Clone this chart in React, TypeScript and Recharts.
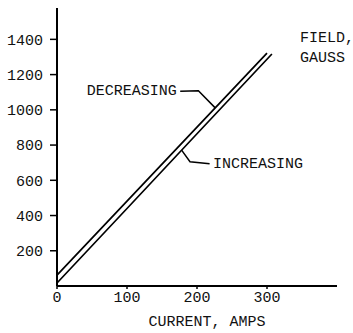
import { LineChart, Line, XAxis, YAxis, ReferenceDot } from "recharts";

// field vs. current
const decreasingCurrent = [0, 100, 200, 300];
const decreasingField = [62, 482, 902, 1322];
const increasingCurrent = [0, 100, 200, 307];
const increasingField = [17, 440, 864, 1317];

// leader lines from the labels to the curves
const decLeaderCurrent = [176, 202, 226];
const decLeaderField = [1105, 1108, 1011];
const incLeaderCurrent = [178, 190, 218];
const incLeaderField = [771, 705, 694];

const xTicks = [0, 100, 200, 300];
const yTicks = [200, 400, 600, 800, 1000, 1200, 1400];

const zip = (xs: number[], ys: number[]) => xs.map((x, i) => ({ x, y: ys[i] }));

const font = "'Liberation Mono', monospace";

type TextProps = { cx?: number; cy?: number };

const makeText = (lines: string[], anchor: "start" | "end") => (p: TextProps) => (
  <text
    x={p.cx}
    y={p.cy}
    textAnchor={anchor}
    fontFamily={font}
    fontSize={15}
    fill="#111"
  >
    {lines.map((l, i) => (
      <tspan key={i} x={p.cx} dy={i === 0 ? "0.35em" : "1.3em"}>
        {l}
      </tspan>
    ))}
  </text>
);

export default function App() {
  return (
    <div style={{ position: "absolute", left: 0, top: 0, background: "#fff" }}>
      <LineChart width={353} height={333} margin={{ top: 8, right: 16, bottom: 0, left: 0 }}>
        <XAxis
          type="number"
          dataKey="x"
          domain={[0, 400]}
          ticks={xTicks}
          height={47}
          axisLine={{ stroke: "#000", strokeWidth: 2 }}
          tickLine={{ stroke: "#000", strokeWidth: 1.5 }}
          tickSize={3}
          tickMargin={2}
          tick={{ fill: "#111", fontFamily: font, fontSize: 15 }}
          label={{
            value: "CURRENT, AMPS",
            position: "insideBottom",
            offset: 7,
            dx: 10,
            fill: "#111",
            fontFamily: font,
            fontSize: 15,
          }}
        />
        <YAxis
          type="number"
          domain={[0, 1578]}
          ticks={yTicks}
          width={57}
          axisLine={{ stroke: "#000", strokeWidth: 2 }}
          tickLine={{ stroke: "#000", strokeWidth: 1.5 }}
          tickSize={7}
          tickMargin={7}
          tick={{ fill: "#111", fontFamily: font, fontSize: 15 }}
        />
        <Line
          data={zip(decreasingCurrent, decreasingField)}
          dataKey="y"
          type="linear"
          stroke="#000"
          strokeWidth={1.7}
          dot={false}
          isAnimationActive={false}
        />
        <Line
          data={zip(increasingCurrent, increasingField)}
          dataKey="y"
          type="linear"
          stroke="#000"
          strokeWidth={1.7}
          dot={false}
          isAnimationActive={false}
        />
        <Line
          data={zip(decLeaderCurrent, decLeaderField)}
          dataKey="y"
          type="linear"
          stroke="#000"
          strokeWidth={1.5}
          dot={false}
          isAnimationActive={false}
        />
        <Line
          data={zip(incLeaderCurrent, incLeaderField)}
          dataKey="y"
          type="linear"
          stroke="#000"
          strokeWidth={1.5}
          dot={false}
          isAnimationActive={false}
        />
        <ReferenceDot x={171} y={1115} r={0} ifOverflow="visible" shape={makeText(["DECREASING"], "end")} />
        <ReferenceDot x={223} y={698} r={0} ifOverflow="visible" shape={makeText(["INCREASING"], "start")} />
        <ReferenceDot x={347} y={1413} r={0} ifOverflow="visible" shape={makeText(["FIELD,", "GAUSS"], "start")} />
      </LineChart>
    </div>
  );
}
